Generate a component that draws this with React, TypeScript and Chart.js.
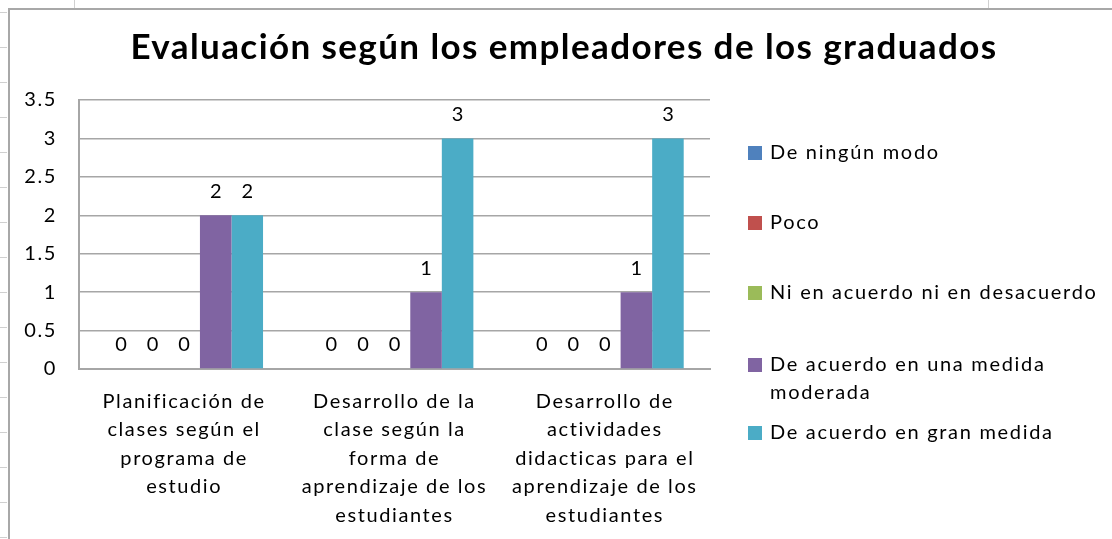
import React, { useEffect, useRef } from "react";
import { Chart, registerables } from "chart.js";

Chart.register(...registerables);

const TITLE = "Evaluación según los empleadores de los graduados";

const CATEGORIES: string[][] = [
  ["Planificación de", "clases según el", "programa de", "estudio"],
  ["Desarrollo de la", "clase según la", "forma de", "aprendizaje de los", "estudiantes"],
  ["Desarrollo de", "actividades", "didacticas para el", "aprendizaje de los", "estudiantes"],
];

const SERIES_NAMES = [
  "De ningún modo",
  "Poco",
  "Ni en acuerdo ni en desacuerdo",
  "De acuerdo en una medida moderada",
  "De acuerdo en gran medida",
];

const DE_NINGUN_MODO = [0, 0, 0];
const POCO = [0, 0, 0];
const NI_ACUERDO = [0, 0, 0];
const MEDIDA_MODERADA = [2, 1, 1];
const GRAN_MEDIDA = [2, 3, 3];

const SERIES_VALUES = [DE_NINGUN_MODO, POCO, NI_ACUERDO, MEDIDA_MODERADA, GRAN_MEDIDA];
const SERIES_COLORS = ["#4F81BD", "#C0504D", "#9BBB59", "#8064A2", "#4BACC6"];

const Y_MIN = 0;
const Y_MAX = 3.5;
const Y_STEP = 0.5;

const FONT = "Lato";
const GLOBAL_SPACING = "1.6px";

const spacingPlugin = {
  id: "spacing",
  beforeUpdate(chart: any) {
    chart.ctx.letterSpacing = GLOBAL_SPACING;
  },
  beforeDraw(chart: any) {
    chart.ctx.letterSpacing = GLOBAL_SPACING;
  },
};

const backgroundPlugin = {
  id: "sheetBackground",
  beforeDraw(chart: any) {
    const ctx = chart.ctx;
    const w = chart.width;
    const h = chart.height;
    ctx.save();
    ctx.fillStyle = "#ffffff";
    ctx.fillRect(0, 0, w, h);
    ctx.strokeStyle = "#d0d0d0";
    ctx.lineWidth = 1;
    for (let y = 12; y < h; y += 35) {
      ctx.beginPath();
      ctx.moveTo(0, y + 0.5);
      ctx.lineTo(7, y + 0.5);
      ctx.stroke();
    }
    [74, 988].forEach((x) => {
      ctx.beginPath();
      ctx.moveTo(x + 0.5, 0);
      ctx.lineTo(x + 0.5, 8);
      ctx.stroke();
    });
    ctx.strokeStyle = "#a8a8a8";
    ctx.lineWidth = 2;
    ctx.beginPath();
    ctx.moveTo(9, h);
    ctx.lineTo(9, 9);
    ctx.lineTo(w, 9);
    ctx.stroke();
    ctx.fillStyle = "#000000";
    ctx.font = `bold 35px ${FONT}`;
    ctx.letterSpacing = "1.4px";
    ctx.textAlign = "center";
    ctx.textBaseline = "middle";
    ctx.fillText(TITLE, 564, 48);
    ctx.restore();
  },
};

const dataLabelPlugin = {
  id: "valueLabels",
  afterDatasetsDraw(chart: any) {
    const ctx = chart.ctx;
    ctx.save();
    ctx.fillStyle = "#000000";
    ctx.font = `20px ${FONT}`;
    ctx.letterSpacing = "0px";
    ctx.textAlign = "center";
    ctx.textBaseline = "middle";
    chart.data.datasets.forEach((ds: any, di: number) => {
      const meta = chart.getDatasetMeta(di);
      meta.data.forEach((bar: any, i: number) => {
        ctx.fillText(String(ds.data[i]), bar.x, bar.y - 24);
      });
    });
    ctx.restore();
  },
};

const legendPlugin = {
  id: "sideLegend",
  afterDraw(chart: any) {
    const ctx = chart.ctx;
    ctx.save();
    ctx.font = `20px ${FONT}`;
    ctx.letterSpacing = "1.7px";
    ctx.textAlign = "left";
    ctx.textBaseline = "middle";
    const maxWidth = 340;
    const itemY = [153, 223, 293, 365, 433];
    const lineGap = 28;
    chart.data.datasets.forEach((ds: any, i: number) => {
      const words = String(ds.label).split(" ");
      const lines: string[] = [];
      let cur = "";
      words.forEach((wd) => {
        const test = cur ? cur + " " + wd : wd;
        if (cur && ctx.measureText(test).width > maxWidth) {
          lines.push(cur);
          cur = wd;
        } else cur = test;
      });
      if (cur) lines.push(cur);
      const y0 = itemY[i];
      ctx.fillStyle = ds.backgroundColor;
      ctx.fillRect(748, y0 - 7, 14, 14);
      ctx.fillStyle = "#000000";
      lines.forEach((ln, li) => ctx.fillText(ln, 770, y0 + li * lineGap));
    });
    ctx.restore();
  },
};

export default function App() {
  const canvasRef = useRef<HTMLCanvasElement | null>(null);

  useEffect(() => {
    if (!canvasRef.current) return;
    const chart = new Chart(canvasRef.current, {
      type: "bar",
      data: {
        labels: CATEGORIES,
        datasets: SERIES_NAMES.map((name, i) => ({
          label: name,
          data: SERIES_VALUES[i],
          backgroundColor: SERIES_COLORS[i],
          borderWidth: 0,
          categoryPercentage: 0.75,
          barPercentage: 1,
        })),
      },
      options: {
        animation: false,
        responsive: true,
        maintainAspectRatio: false,
        layout: { padding: { left: 0, top: 100, right: 402, bottom: 0 } },
        plugins: {
          legend: { display: false },
          title: { display: false },
          tooltip: { enabled: false },
        },
        scales: {
          x: {
            grid: { display: false },
            border: { display: true, color: "#a6a6a6", width: 2 },
            ticks: {
              color: "#000000",
              font: { family: FONT, size: 20, lineHeight: 28.5 / 20 },
              padding: 10,
              maxRotation: 0,
              autoSkip: false,
            },
            afterFit(scale: any) {
              scale.height = 170;
            },
          },
          y: {
            min: Y_MIN,
            max: Y_MAX,
            grid: { color: "#a6a6a6", lineWidth: 1.5, drawTicks: false },
            border: { display: true, color: "#a6a6a6", width: 2 },
            ticks: {
              stepSize: Y_STEP,
              color: "#000000",
              font: { family: FONT, size: 20 },
              padding: 22,
              callback: (v: any) => String(Number(v)),
            },
            afterFit(scale: any) {
              scale.width = 79;
            },
          },
        },
      },
      plugins: [spacingPlugin, backgroundPlugin, dataLabelPlugin, legendPlugin],
    });
    return () => chart.destroy();
  }, []);

  return (
    <div style={{ position: "fixed", left: 0, top: 0, width: 1112, height: 539, background: "#fff" }}>
      <canvas ref={canvasRef} />
    </div>
  );
}
